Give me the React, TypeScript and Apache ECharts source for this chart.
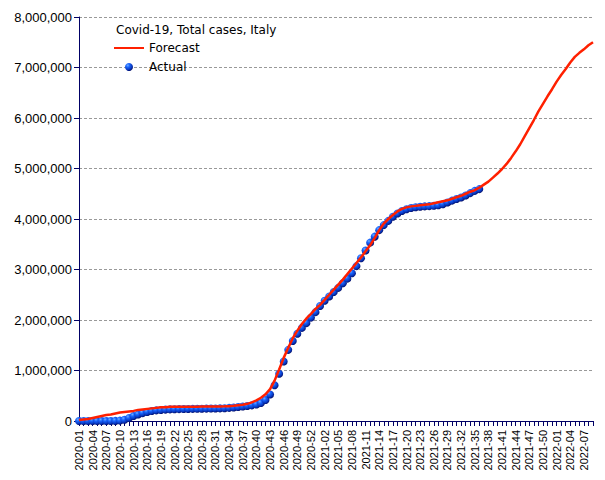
import React, { useEffect, useRef } from "react";
import * as echarts from "echarts";

const years = [2020, 2021, 2022];
const weeksInYear = [53, 52, 9];
const categories: string[] = [];
years.forEach((y, k) => {
  for (let w = 1; w <= weeksInYear[k]; w++) categories.push(`${y}-${String(w).padStart(2, "0")}`);
});

const actual2020 = [
  0, 0, 0, 0, 2, 3, 3, 152, 1694, 7375, 24747, 59138, 97689, 128948, 156363, 178972, 197675,
  210717, 218268, 225435, 229858, 232997, 234998, 236989, 238499, 240436, 241819, 243061, 244434,
  246118, 248070, 250566, 253915, 259345, 268218, 277634, 287753, 298156, 309870, 325329, 354950,
  414241, 525782, 709335, 935104, 1178529, 1408868, 1585178, 1728878, 1843712, 1938083, 2047696,
  2155446,
];
const actual2021 = [
  2276491, 2381277, 2466813, 2553032, 2636738, 2729223, 2818863, 2925265, 3067486, 3223142,
  3376376, 3532057, 3650247, 3779594, 3878994, 3962674, 4044762, 4107980, 4159122, 4192183,
  4217821, 4233698, 4243482, 4249755, 4254294, 4260788, 4271276, 4293627, 4327640, 4363374,
  4396417, 4427057, 4466427, 4512284, 4557000, 4592000,
];
const actual = [...actual2020, ...actual2021];

const forecast = [
  20000, 30000, 40000, 60000, 80000, 100000, 120000, 130000, 150000, 170000,
  180000, 190000, 200000, 220000, 230000, 240000, 250000, 260000, 270000, 270000,
  280000, 280000, 280000, 280000, 280000, 282000, 284000, 285000, 286000, 287000,
  288000, 289000, 290000, 292000, 300000, 310000, 320000, 340000, 370000, 410000,
  460000, 530000, 630000, 800000, 1020000, 1250000, 1450000, 1640000, 1790000, 1920000,
  2030000, 2120000, 2220000, 2300000, 2400000, 2500000, 2600000, 2700000, 2800000, 2910000,
  3020000, 3130000, 3240000, 3360000, 3480000, 3620000, 3780000, 3910000, 4000000, 4080000,
  4150000, 4200000, 4230000, 4250000, 4260000, 4270000, 4280000, 4290000, 4310000, 4330000,
  4350000, 4370000, 4400000, 4430000, 4460000, 4500000, 4540000, 4570000, 4620000, 4680000,
  4740000, 4820000, 4900000, 4990000, 5090000, 5210000, 5340000, 5480000, 5640000, 5800000,
  5960000, 6130000, 6280000, 6430000, 6570000, 6720000, 6850000, 6970000, 7100000, 7210000,
  7290000, 7360000, 7440000, 7500000,
];

const yTicks = { min: 0, max: 8000000, interval: 1000000 };
const axisColor = "#000066";
const labelFont = "'Liberation Sans', Arial, sans-serif";
const legendFont = "'DejaVu Sans', sans-serif";

export default function App() {
  const ref = useRef<HTMLDivElement>(null);
  useEffect(() => {
    if (!ref.current) return;
    const chart = echarts.init(ref.current, undefined, { renderer: "svg" });
    const sphere = new echarts.graphic.RadialGradient(0.35, 0.3, 0.75, [
      { offset: 0, color: "#6fb0ff" },
      { offset: 0.3, color: "#1a66ff" },
      { offset: 0.7, color: "#0838c0" },
      { offset: 1, color: "#000860" },
    ]);
    chart.setOption({
      animation: false,
      backgroundColor: "#ffffff",
      title: {
        text: "Covid-19, Total cases, Italy",
        left: 111,
        top: 19,
        textStyle: { fontFamily: legendFont, fontSize: 12, fontWeight: "normal", color: "#000" },
      },
      legend: {
        orient: "vertical",
        left: 109,
        top: 37,
        itemWidth: 30,
        itemHeight: 8,
        itemGap: 7,
        data: [
          { name: "Forecast", icon: "path://M0,0 H30 V2 H0 Z", itemStyle: { color: "#ff2000" } },
          { name: "Actual", icon: "circle" },
        ],
        textStyle: { fontFamily: legendFont, fontSize: 12, color: "#000" },
      },
      grid: { left: 79, right: 12, top: 17, bottom: 59, containLabel: false },
      xAxis: {
        type: "category",
        data: categories,
        boundaryGap: false,
        axisLine: { lineStyle: { color: axisColor, width: 1 } },
        axisTick: { show: true, interval: 0, length: 5, lineStyle: { color: axisColor } },
        axisLabel: {
          interval: 2,
          rotate: 90,
          fontFamily: labelFont,
          fontSize: 11,
          color: "#000",
          margin: 9,
        },
        splitLine: { show: false },
      },
      yAxis: {
        type: "value",
        min: yTicks.min,
        max: yTicks.max,
        interval: yTicks.interval,
        axisLine: { show: true, lineStyle: { color: axisColor, width: 1 } },
        axisTick: { show: true, length: 5, lineStyle: { color: axisColor } },
        axisLabel: {
          fontFamily: labelFont,
          fontSize: 13,
          color: "#000",
          margin: 7,
          formatter: (v: number) => v.toLocaleString("en-US"),
        },
        splitLine: { show: true, lineStyle: { color: "#999999", type: [3, 2], width: 1 } },
      },
      series: [
        {
          name: "Actual",
          type: "scatter",
          data: actual,
          symbol: "circle",
          symbolSize: 8,
          itemStyle: { color: sphere, opacity: 1 },
          z: 2,
        },
        {
          name: "Forecast",
          type: "line",
          data: forecast,
          symbol: "none",
          smooth: false,
          lineStyle: { color: "#ff2000", width: 2.5 },
          itemStyle: { color: "#ff2000" },
          z: 3,
        },
      ],
    });
    return () => chart.dispose();
  }, []);
  return <div ref={ref} style={{ width: 605, height: 480, position: "absolute", left: 0, top: 0 }} />;
}
